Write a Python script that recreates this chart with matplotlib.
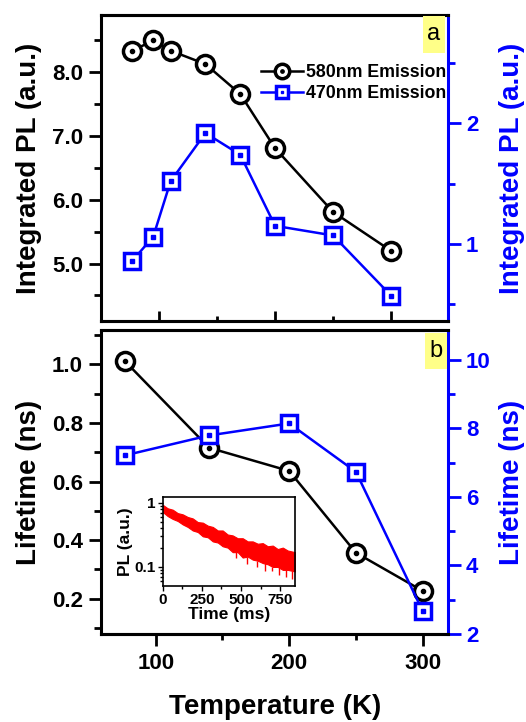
import matplotlib
matplotlib.use('Agg')
import matplotlib.pyplot as plt
from matplotlib.ticker import MultipleLocator, FixedLocator, FixedFormatter, NullFormatter, FormatStrFormatter
from matplotlib.patches import Rectangle
from matplotlib.legend_handler import HandlerTuple

plt.rcParams['font.family'] = ['Liberation Sans', 'DejaVu Sans']
plt.rcParams['font.weight'] = 'bold'
plt.rcParams['axes.labelweight'] = 'bold'
plt.rcParams['axes.linewidth'] = 2.2

# panel a: integrated PL vs temperature
temp_a = [77, 95, 110, 140, 170, 200, 250, 300]
pl_580 = [8.34, 8.50, 8.34, 8.13, 7.66, 6.81, 5.81, 5.20]
pl_470 = [0.86, 1.06, 1.52, 1.92, 1.74, 1.15, 1.07, 0.57]

# panel b: lifetime vs temperature
temp_b = [77, 140, 200, 250, 300]
tau_580 = [1.01, 0.715, 0.636, 0.357, 0.227]
tau_470 = [7.21, 7.79, 8.14, 6.73, 2.67]

# inset: decay band (upper / lower edge of the noisy trace)
t_ms = [0, 32, 64, 96, 128, 160, 192, 224, 256, 288, 320, 352, 383, 415, 447,
        479, 511, 543, 575, 607, 639, 671, 703, 735, 767, 799, 845]
pl_hi = [0.93, 0.82, 0.78, 0.69, 0.66, 0.60, 0.57, 0.50, 0.49, 0.44, 0.42, 0.37,
         0.37, 0.32, 0.31, 0.28, 0.28, 0.25, 0.25, 0.23, 0.235, 0.21, 0.215, 0.19,
         0.20, 0.18, 0.17]
pl_lo = [0.72, 0.62, 0.56, 0.52, 0.46, 0.42, 0.37, 0.35, 0.30, 0.29, 0.25, 0.24,
         0.21, 0.20, 0.17, 0.17, 0.14, 0.145, 0.13, 0.125, 0.115, 0.11, 0.10, 0.10,
         0.09, 0.09, 0.085]
spike_t = [470, 540, 600, 655, 700, 745, 790, 825]
spike_top = [0.17, 0.145, 0.125, 0.115, 0.10, 0.10, 0.09, 0.087]
spike_lo = [0.14, 0.11, 0.10, 0.085, 0.085, 0.075, 0.07, 0.065]

W, H = 526, 722
fig = plt.figure(figsize=(W / 100, H / 100), dpi=100)

BLUE = '#0000FF'


def circ(ax, x, y, lab=None):
    l1, = ax.plot(x, y, '-', color='k', lw=1.8, marker='o', ms=13, mfc='white',
                  mec='k', mew=2.5, label=lab, zorder=3)
    l2, = ax.plot(x, y, 'o', color='k', ms=3, zorder=4)
    return l1, l2


def sq(ax, x, y, lab=None):
    l1, = ax.plot(x, y, '-', color=BLUE, lw=1.8, marker='s', ms=11.5, mfc='white',
                  mec=BLUE, mew=2.5, label=lab, zorder=3)
    l2, = ax.plot(x, y, 's', color=BLUE, ms=2.5, zorder=4)
    return l1, l2


def style_twin(ax, axr):
    ax.spines['right'].set_visible(False)
    axr.spines['left'].set_visible(False)
    axr.spines['right'].set_color(BLUE)
    axr.spines['right'].set_linewidth(2.2)
    axr.tick_params(axis='y', which='both', colors=BLUE, direction='out', width=2)
    axr.tick_params(axis='y', which='major', length=9, labelsize=16, pad=4)
    axr.tick_params(axis='y', which='minor', length=5)
    ax.tick_params(axis='y', which='both', direction='out', width=2)
    ax.tick_params(axis='y', which='major', length=9, labelsize=16, pad=4)
    ax.tick_params(axis='y', which='minor', length=5)


def tag(ax, s, x0, x1, y0, y1):
    ax.add_patch(Rectangle((x0, y0), x1 - x0, y1 - y0, transform=ax.transAxes,
                           facecolor='#FFFF88', edgecolor='none', zorder=5))
    ax.text((x0 + x1) / 2, (y0 + y1) / 2, s, transform=ax.transAxes, ha='center',
            va='center', fontsize=17, fontweight='normal', zorder=6)


# ---- panel a
ax1 = fig.add_axes([101 / W, 1 - 321 / H, 347 / W, 306 / H])
ax1r = ax1.twinx()
c = circ(ax1, temp_a, pl_580, '580nm Emission')
s = sq(ax1r, temp_a, pl_470, '470nm Emission')
ax1.set_xlim(50, 349)
ax1.set_ylim(4.1, 8.9)
ax1r.set_ylim(0.36, 2.9)
ax1.xaxis.set_major_locator(FixedLocator([100, 200, 300]))
ax1.xaxis.set_minor_locator(FixedLocator([150, 250]))
ax1.tick_params(axis='x', which='both', direction='in', width=2, labelbottom=False)
ax1.tick_params(axis='x', which='major', length=7.5)
ax1.tick_params(axis='x', which='minor', length=3.8)
ax1.yaxis.set_major_locator(MultipleLocator(1.0))
ax1.yaxis.set_minor_locator(MultipleLocator(0.5))
ax1.yaxis.set_major_formatter(FormatStrFormatter('%.1f'))
ax1r.yaxis.set_major_locator(MultipleLocator(1))
ax1r.yaxis.set_minor_locator(MultipleLocator(0.5))
style_twin(ax1, ax1r)
leg = ax1r.legend([c, s], ['580nm Emission', '470nm Emission'],
                  handler_map={tuple: HandlerTuple(ndivide=1)},
                  loc='upper right', bbox_to_anchor=(0.995, 0.84), frameon=False,
                  fontsize=12.8, handlelength=2.4, handletextpad=0.15,
                  labelspacing=0.25, borderpad=0, borderaxespad=0, markerscale=0.8)
tag(ax1r, 'a', 0.928, 0.991, 0.876, 0.997)

# ---- panel b
ax2 = fig.add_axes([101 / W, 1 - 634 / H, 347 / W, 303.5 / H])
ax2r = ax2.twinx()
circ(ax2, temp_b, tau_580)
sq(ax2r, temp_b, tau_470)
ax2.set_xlim(59, 319)
ax2.set_ylim(0.08, 1.115)
ax2r.set_ylim(2, 10.85)
ax2.xaxis.set_major_locator(FixedLocator([100, 200, 300]))
ax2.xaxis.set_minor_locator(FixedLocator([150, 250]))
ax2.tick_params(axis='x', which='both', direction='out', width=2)
ax2.tick_params(axis='x', which='major', length=8.5, labelsize=16, pad=5)
ax2.tick_params(axis='x', which='minor', length=4.5)
ax2.yaxis.set_major_locator(MultipleLocator(0.2))
ax2.yaxis.set_minor_locator(MultipleLocator(0.1))
ax2.yaxis.set_major_formatter(FormatStrFormatter('%.1f'))
ax2r.yaxis.set_major_locator(MultipleLocator(2))
ax2r.yaxis.set_minor_locator(MultipleLocator(1))
style_twin(ax2, ax2r)
tag(ax2r, 'b', 0.934, 0.997, 0.872, 0.993)

# ---- inset
axi = fig.add_axes([162.7 / W, 1 - 585.7 / H, 132.3 / W, 88.7 / H])
axi.fill_between(t_ms, pl_lo, pl_hi, color='#FF0000', lw=0.8, edgecolor='#FF0000')
axi.vlines(spike_t, spike_lo, spike_top, color='#FF0000', lw=1)
axi.set_yscale('log')
axi.set_xlim(0, 845)
axi.set_ylim(0.051, 1.23)
for sp in axi.spines.values():
    sp.set_linewidth(1.2)
axi.yaxis.set_major_locator(FixedLocator([0.1, 1]))
axi.yaxis.set_major_formatter(FixedFormatter(['0.1', '1']))
axi.yaxis.set_minor_formatter(NullFormatter())
axi.xaxis.set_major_locator(MultipleLocator(250))
axi.xaxis.set_minor_locator(MultipleLocator(125))
axi.tick_params(which='both', direction='out', width=1, labelsize=11, pad=1.5)
axi.tick_params(which='major', length=3.5)
axi.tick_params(which='minor', length=2)
axi.set_xlabel('Time (ms)', fontsize=12.5, labelpad=0)
axi.set_ylabel('PL (a.u.)', fontsize=12.5, labelpad=1)

# ---- shared labels
fig.text(29.5 / W, 1 - 168 / H, 'Integrated PL (a.u.)', rotation=90, ha='center',
         va='center', fontsize=20)
fig.text(512 / W, 1 - 168 / H, 'Integrated PL (a.u.)', rotation=90, ha='center',
         va='center', fontsize=20, color=BLUE)
fig.text(29.5 / W, 1 - 482 / H, 'Lifetime (ns)', rotation=90, ha='center',
         va='center', fontsize=20)
fig.text(512 / W, 1 - 482 / H, 'Lifetime (ns)', rotation=90, ha='center',
         va='center', fontsize=20, color=BLUE)
fig.text(275.5 / W, 1 - 707 / H, 'Temperature (K)', ha='center', va='center',
         fontsize=20)

fig.savefig('out.png', dpi=100)
